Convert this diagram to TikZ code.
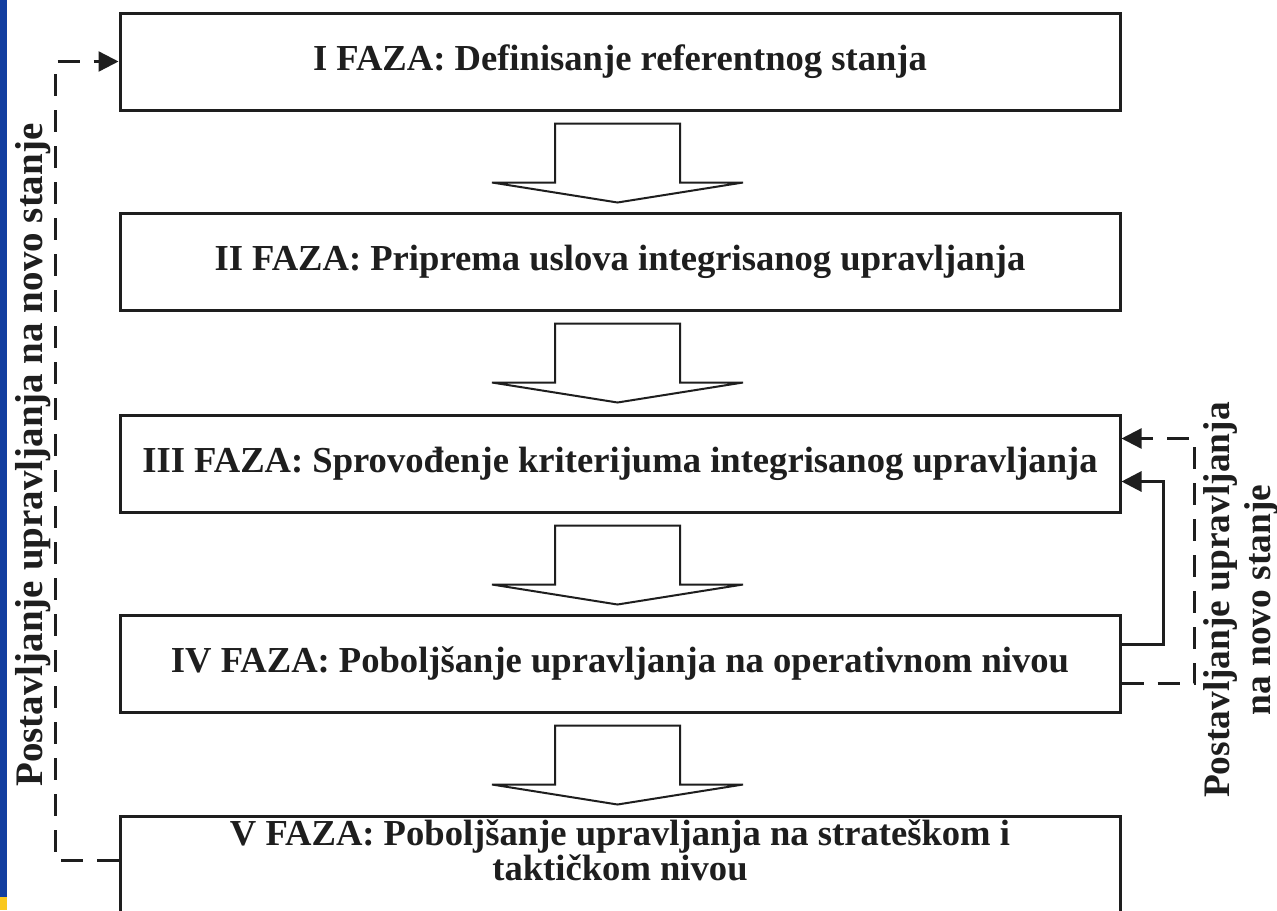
\documentclass[tikz,border=0pt]{standalone}
\usepackage{fontspec}
\setmainfont{Liberation Serif}
\usetikzlibrary{arrows.meta,calc}
\definecolor{stripblue}{RGB}{18,62,160}
\definecolor{stripyellow}{RGB}{250,200,30}
\definecolor{ink}{RGB}{30,30,30}
\tikzset{
  faza/.style={draw=ink, line width=1.5pt, minimum width=500pt, minimum height=48.5pt,
    inner sep=0pt, font=\fontsize{18.3pt}{22pt}\selectfont\bfseries, text=ink},
  ftext/.style={inner sep=0pt, anchor=base, font=\fontsize{18.3pt}{22pt}\selectfont\bfseries, text=ink},
  sidetext/.style={rotate=90, inner sep=0pt, anchor=base,
    font=\fontsize{19.5pt}{23pt}\selectfont\bfseries, text=ink},
  rsidetext/.style={sidetext, font=\fontsize{18.7pt}{22pt}\selectfont\bfseries},
  blockarrow/.style={draw=ink, line width=1pt, fill=white, line join=miter},
  feedback/.style={draw=ink, line width=1.5pt, -{Triangle[length=10pt,width=10pt]}},
  dashfeedback/.style={feedback, line width=1.2pt, dash pattern=on 11pt off 7pt},
}
\newcommand\blkarrow[1]{%
  \draw[blockarrow] ($(#1.south)+(-65,12)$) -- ($(#1.south)+(60,12)$) -- ($(#1.south)+(60,71)$)
    -- ($(#1.south)+(123,71)$) -- ($(#1.south)+(-2.5,91)$) -- ($(#1.south)+(-128,71)$)
    -- ($(#1.south)+(-65,71)$) -- cycle;}
\begin{document}
\begin{tikzpicture}[x=0.5pt, y=-0.5pt]
  \useasboundingbox (0,0) rectangle (1277,910);
  \clip (0,0) rectangle (1277,910);
  \fill[white] (0,0) rectangle (1277,910);
  \fill[stripblue] (0,0) rectangle (7,897);
  \fill[stripyellow] (0,897) rectangle (7,910);

  \node[faza] (b1) at (620,61.5) {I FAZA: Definisanje referentnog stanja};
  \node[faza] (b2) at (620,261.5) {II FAZA: Priprema uslova integrisanog upravljanja};
  \node[faza] (b3) at (620,463.5) {III FAZA: Sprovođenje kriterijuma integrisanog upravljanja};
  \node[faza] (b4) at (620,663.5) {IV FAZA: Poboljšanje upravljanja na operativnom nivou};
  \node[faza, minimum height=100pt] (b5) at (620,916) {};
  \node[ftext] (t5a) at (620,845) {V FAZA: Poboljšanje upravljanja na strateškom i};
  \node[ftext] (t5b) at (620,880) {taktičkom nivou};

  \blkarrow{b1}
  \blkarrow{b2}
  \blkarrow{b3}
  \blkarrow{b4}

  % left feedback loop
  \coordinate (l0) at ($(b5.north west)+(0,46)$);
  \coordinate (l1) at ($(l0)+(-63,0)$);
  \draw[dashfeedback] (l0) -- (l1) |- (b1.west);
  \node[sidetext] (lt) at (42,455) {Postavljanje upravljanja na novo stanje};

  % right feedback loops
  \coordinate (r0) at ($(b4.north east)+(0,31)$);
  \coordinate (r1) at ($(b3.north east)+(0,68)$);
  \draw[feedback] (r0) -- ++(42,0) |- (r1);
  \coordinate (d0) at ($(b4.north east)+(0,70)$);
  \coordinate (d1) at ($(b3.north east)+(0,25)$);
  \draw[dashfeedback] (d0) -- ++(73,0) |- (d1);
  \node[rsidetext] (rt1) at (1229,600) {Postavljanje upravljanja};
  \node[rsidetext] (rt2) at (1270,600) {na novo stanje};
\end{tikzpicture}
\end{document}
